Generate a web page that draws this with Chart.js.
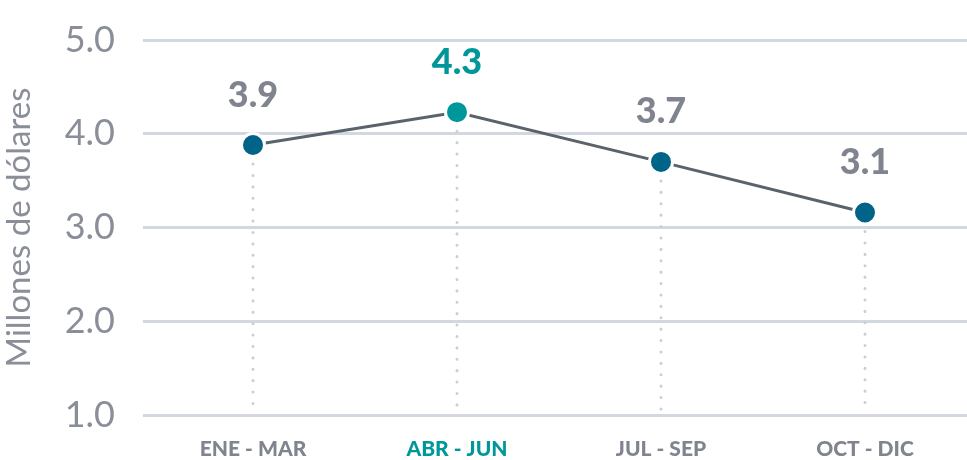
<!DOCTYPE html>
<html>
<head>
<meta charset="utf-8">
<script src="https://cdn.jsdelivr.net/npm/chart.js@4"></script>
<style>
  html, body { margin: 0; padding: 0; background: #fff; overflow: hidden; }
  canvas { display: block; }
</style>
</head>
<body>
<canvas id="myChart" width="967" height="460"></canvas>
<script>
const categories = ["ENE - MAR", "ABR - JUN", "JUL - SEP", "OCT - DIC"];
const values = [3.88, 4.23, 3.7, 3.16];
const valueLabels = ["3.9", "4.3", "3.7", "3.1"];
const highlightIndex = 1;
const yTicks = [1, 2, 3, 4, 5];

const gray = "#80848f";
const teal = "#00979a";
const navy = "#006388";

// línea punteada bajo cada punto + etiqueta de valor
const dropLines = {
  id: "dropLines",
  beforeDatasetsDraw(chart) {
    const ctx = chart.ctx;
    const meta = chart.getDatasetMeta(0);
    const bottom = chart.chartArea.bottom;
    ctx.save();
    ctx.strokeStyle = "#c9ced7";
    ctx.lineWidth = 3;
    ctx.lineCap = "round";
    ctx.setLineDash([0.1, 11.3]);
    meta.data.forEach(pt => {
      ctx.beginPath();
      ctx.moveTo(pt.x, pt.y + 19);
      ctx.lineTo(pt.x, bottom - 6);
      ctx.stroke();
    });
    ctx.restore();
  },
  afterDatasetsDraw(chart) {
    const ctx = chart.ctx;
    const meta = chart.getDatasetMeta(0);
    ctx.save();
    ctx.font = "900 36px Lato";
    ctx.textAlign = "center";
    ctx.textBaseline = "middle";
    meta.data.forEach((pt, i) => {
      ctx.fillStyle = i === highlightIndex ? teal : gray;
      ctx.fillText(valueLabels[i], pt.x, pt.y - 50);
    });
    ctx.restore();
  }
};

const chart = new Chart(document.getElementById("myChart"), {
  type: "line",
  data: {
    labels: categories,
    datasets: [{
      data: values,
      borderColor: "#5a636b",
      borderWidth: 3,
      tension: 0,
      pointRadius: 11.5,
      pointHoverRadius: 11.5,
      pointBorderWidth: 3,
      pointBorderColor: "#ffffff",
      pointBackgroundColor: values.map((_, i) => i === highlightIndex ? teal : navy)
    }]
  },
  options: {
    responsive: false,
    animation: false,
    layout: { autoPadding: false, padding: { top: 40, right: 0, left: 0, bottom: 0 } },
    plugins: {
      legend: { display: false },
      tooltip: { enabled: false }
    },
    scales: {
      x: {
        offset: true,
        grid: { display: false },
        border: { display: false },
        ticks: {
          padding: 14,
          font: { family: "Lato", size: 21, weight: "900" },
          color: ctx => ctx.index === highlightIndex ? teal : gray
        },
        afterFit: scale => { scale.height = 45; }
      },
      y: {
        min: 1,
        max: 5,
        afterBuildTicks: scale => { scale.ticks = yTicks.map(v => ({ value: v })); },
        grid: {
          color: "#d3d8e0",
          lineWidth: 3,
          tickLength: 8,
          drawTicks: true
        },
        border: { display: false },
        ticks: {
          padding: 28,
          font: { family: "Lato", size: 36 },
          color: "#8a8e99",
          callback: v => v.toFixed(1)
        },
        title: {
          display: true,
          text: "Millones de dólares",
          font: { family: "Lato", size: 33 },
          color: "#8a8e99",
          padding: { top: 0, bottom: 0 }
        },
        afterFit: scale => {
          scale.width = 151;
          scale.paddingTop = 0;
          scale.paddingBottom = 0;
        }
      }
    }
  },
  plugins: [dropLines]
});
</script>
</body>
</html>
